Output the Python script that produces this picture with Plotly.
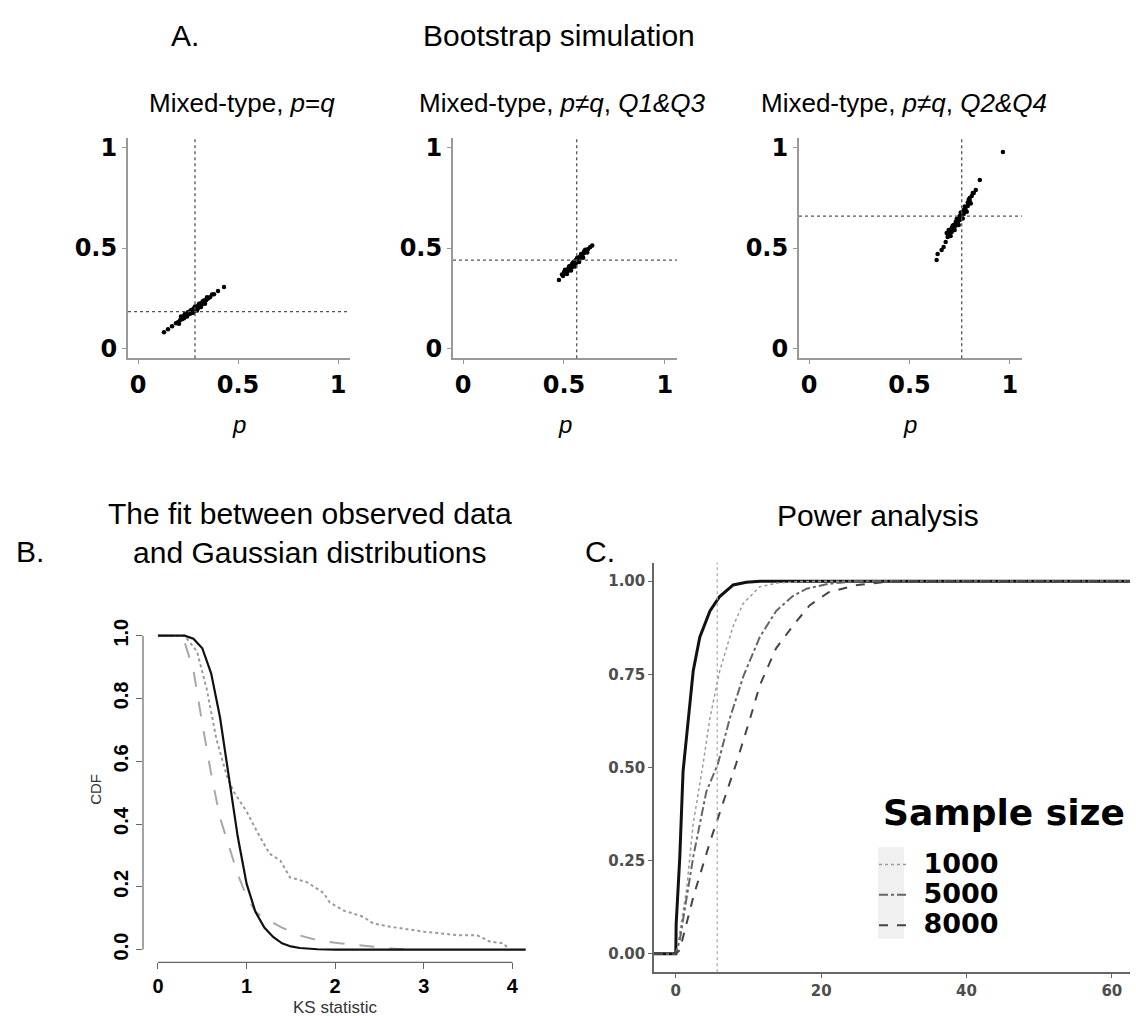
import plotly.graph_objects as go

W, H = 1136, 1023
def px(x): return x / W
def py(y): return 1 - y / H

# ---------------- DATA ----------------
# Panel A: bootstrap samples (p, q) and observed reference values
A1_points = [(0.13, 0.080), (0.15, 0.095), (0.17, 0.110), (0.19, 0.125), (0.20, 0.130), (0.21, 0.140),
             (0.22, 0.145), (0.22, 0.155), (0.23, 0.150), (0.23, 0.162), (0.24, 0.160), (0.24, 0.170),
             (0.25, 0.168), (0.25, 0.175), (0.25, 0.180), (0.26, 0.178), (0.26, 0.184), (0.26, 0.172),
             (0.27, 0.186), (0.27, 0.192), (0.27, 0.180), (0.28, 0.190), (0.28, 0.196), (0.28, 0.200),
             (0.28, 0.185), (0.29, 0.198), (0.29, 0.205), (0.29, 0.192), (0.30, 0.206), (0.30, 0.212),
             (0.30, 0.200), (0.31, 0.214), (0.31, 0.222), (0.32, 0.220), (0.32, 0.228), (0.33, 0.230),
             (0.33, 0.238), (0.34, 0.240), (0.35, 0.248), (0.36, 0.255), (0.38, 0.270), (0.40, 0.285),
             (0.43, 0.305), (0.235, 0.172), (0.245, 0.158), (0.265, 0.190), (0.275, 0.176), (0.285, 0.208),
             (0.295, 0.188), (0.305, 0.222), (0.315, 0.206), (0.325, 0.236), (0.335, 0.222), (0.215, 0.158),
             (0.205, 0.122), (0.345, 0.254), (0.37, 0.268)]
A2_points = [(0.475, 0.340), (0.49, 0.368), (0.50, 0.372), (0.50, 0.380), (0.51, 0.378), (0.51, 0.388),
             (0.52, 0.386), (0.52, 0.395), (0.53, 0.393), (0.53, 0.402), (0.53, 0.410), (0.54, 0.404),
             (0.54, 0.412), (0.54, 0.420), (0.55, 0.415), (0.55, 0.424), (0.55, 0.432), (0.56, 0.426),
             (0.56, 0.435), (0.56, 0.442), (0.57, 0.436), (0.57, 0.445), (0.57, 0.452), (0.58, 0.450),
             (0.58, 0.458), (0.59, 0.462), (0.59, 0.470), (0.60, 0.475), (0.60, 0.484), (0.61, 0.488),
             (0.62, 0.495), (0.63, 0.505), (0.64, 0.513), (0.505, 0.392), (0.515, 0.370), (0.525, 0.408),
             (0.535, 0.388), (0.545, 0.428), (0.555, 0.408), (0.565, 0.450), (0.575, 0.430), (0.585, 0.470),
             (0.595, 0.452), (0.605, 0.492), (0.615, 0.478), (0.495, 0.360)]
A3_points = [(0.635, 0.440), (0.64, 0.470), (0.66, 0.490), (0.67, 0.505), (0.68, 0.530), (0.69, 0.555),
             (0.69, 0.570), (0.70, 0.565), (0.70, 0.585), (0.71, 0.580), (0.71, 0.600), (0.72, 0.598),
             (0.72, 0.615), (0.73, 0.612), (0.73, 0.630), (0.74, 0.628), (0.74, 0.645), (0.75, 0.640),
             (0.75, 0.660), (0.76, 0.655), (0.76, 0.672), (0.77, 0.670), (0.77, 0.690), (0.78, 0.688),
             (0.78, 0.705), (0.79, 0.710), (0.79, 0.728), (0.80, 0.735), (0.80, 0.750), (0.81, 0.760),
             (0.82, 0.775), (0.83, 0.790), (0.85, 0.840), (0.965, 0.980), (0.695, 0.590), (0.705, 0.560),
             (0.715, 0.612), (0.725, 0.590), (0.735, 0.645), (0.745, 0.615), (0.755, 0.678), (0.765, 0.648),
             (0.775, 0.708), (0.785, 0.682), (0.795, 0.742), (0.805, 0.722), (0.815, 0.775), (0.685, 0.575)]
A_p_obs = [0.285, 0.563, 0.760]
A_q_obs = [0.183, 0.440, 0.660]
A_titles = ["Mixed-type, <i>p</i>=<i>q</i>",
            "Mixed-type, <i>p</i>≠<i>q</i>, <i>Q1&amp;Q3</i>",
            "Mixed-type, <i>p</i>≠<i>q</i>, <i>Q2&amp;Q4</i>"]
A_ticks = [0, 0.5, 1]
A_ticktext = ["0", "0.5", "1"]

# Panel B: CDF of KS statistic
B_solid_x = [0, 0.3, 0.4, 0.5, 0.6, 0.7, 0.8, 0.9, 1.0, 1.1, 1.2, 1.3, 1.4, 1.5, 1.6, 1.8, 2.0, 4.15]
B_solid_y = [1, 1, 0.99, 0.96, 0.88, 0.74, 0.55, 0.36, 0.21, 0.12, 0.07, 0.04, 0.02, 0.01, 0.005, 0.001, 0, 0]
B_dash_x = [0, 0.2, 0.3, 0.4, 0.5, 0.6, 0.7, 0.8, 0.9, 1.0, 1.1, 1.2, 1.4, 1.6, 1.8, 2.0, 2.2, 2.4, 2.6, 2.85]
B_dash_y = [1, 1, 0.98, 0.89, 0.72, 0.56, 0.42, 0.33, 0.24, 0.17, 0.12, 0.10, 0.07, 0.045, 0.03, 0.022, 0.016,
            0.008, 0.004, 0.0]
B_dot_x = [0, 0.3, 0.44, 0.55, 0.66, 0.78, 0.85, 1.0, 1.11, 1.26, 1.38, 1.49, 1.68, 1.87, 1.94, 2.09, 2.32,
           2.43, 2.62, 3.0, 3.18, 3.37, 3.6, 3.75, 3.9, 3.95]
B_dot_y = [1, 1, 0.95, 0.83, 0.67, 0.55, 0.505, 0.44, 0.38, 0.305, 0.284, 0.23, 0.215, 0.18, 0.15, 0.125,
           0.104, 0.083, 0.073, 0.057, 0.052, 0.046, 0.046, 0.025, 0.02, 0.004]
B_xticks = [0, 1, 2, 3, 4]
B_yticks = [0, 0.2, 0.4, 0.6, 0.8, 1.0]

# Panel C: power analysis
C_solid_x = [-3, 0, 0.05, 0.55, 1.0, 1.7, 2.4, 3.3, 4.7, 6.0, 7.9, 9.7, 11.6, 62.5]
C_solid_y = [0, 0, 0.08, 0.26, 0.49, 0.63, 0.76, 0.85, 0.92, 0.958, 0.99, 0.997, 1.0, 1.0]
C_1000_x = [-3, 0, 0.32, 1.47, 2.4, 3.76, 4.67, 6.05, 7.9, 9.26, 11.55, 14, 17, 20, 62.5]
C_1000_y = [0, 0, 0.03, 0.17, 0.35, 0.51, 0.63, 0.76, 0.88, 0.94, 0.985, 0.995, 0.999, 1, 1]
C_5000_x = [-3, 0, 0.55, 2.4, 4.2, 5.8, 7.4, 9.3, 11.55, 13.8, 16.1, 18, 21, 25, 62.5]
C_5000_y = [0, 0, 0.037, 0.26, 0.435, 0.51, 0.63, 0.745, 0.85, 0.92, 0.96, 0.98, 0.993, 1, 1]
C_8000_x = [-3, 0, 0.55, 2.4, 4.7, 6.97, 8.3, 10.2, 11.55, 13.8, 16.1, 18.4, 21, 25, 30, 62.5]
C_8000_y = [0, 0, 0.01, 0.152, 0.30, 0.435, 0.51, 0.63, 0.72, 0.82, 0.88, 0.935, 0.97, 0.99, 1, 1]
C_vline = 5.7
C_names = ["1000", "5000", "8000"]
C_xticks = [0, 20, 40, 60]
C_yticks = [0, 0.25, 0.5, 0.75, 1.0]

# ---------------- FIGURE ----------------
fig = go.Figure()

A_dom_x = [(128, 350), (453, 677), (799, 1022)]
A_dom_y = (135, 357)
A_pts = [A1_points, A2_points, A3_points]

ann = []
shapes = []
layout_axes = {}


def label(text, x, y, size, family="Liberation Sans", color="black", **kw):
    ann.append(dict(text=text, x=px(x), y=py(y), xref="paper", yref="paper", showarrow=False,
                    xanchor="center", yanchor="middle",
                    font=dict(family=family, size=size, color=color), **kw))


for i in range(3):
    n = "" if i == 0 else str(i + 1)
    xs = [p for p, q in A_pts[i]]
    ys = [q for p, q in A_pts[i]]
    fig.add_trace(go.Scatter(x=xs, y=ys, mode="markers", xaxis="x" + n, yaxis="y" + n,
                             marker=dict(size=4.5, color="black"), showlegend=False))
    tickf = dict(family="DejaVu Sans", size=24, color="black", weight="bold")
    layout_axes["xaxis" + n] = dict(domain=[px(A_dom_x[i][0]), px(A_dom_x[i][1])], anchor="y" + n,
                                    range=[-0.05, 1.06], tickvals=A_ticks, ticktext=A_ticktext,
                                    showline=True, linecolor="#999999", linewidth=2, ticks="outside",
                                    ticklen=4, tickcolor="#999999", showgrid=False, zeroline=False,
                                    tickfont=tickf)
    layout_axes["yaxis" + n] = dict(domain=[py(A_dom_y[1]), py(A_dom_y[0])], anchor="x" + n,
                                    range=[-0.05, 1.05], tickvals=A_ticks, ticktext=A_ticktext,
                                    showline=True, linecolor="#999999", linewidth=2, ticks="outside",
                                    ticklen=4, tickcolor="#999999", showgrid=False, zeroline=False,
                                    tickfont=tickf)
    shapes.append(dict(type="line", xref="x" + n, yref="y" + n + " domain", x0=A_p_obs[i], x1=A_p_obs[i],
                       y0=0, y1=1, line=dict(color="#555555", width=1.3, dash="dot")))
    shapes.append(dict(type="line", xref="x" + n + " domain", yref="y" + n, x0=0, x1=1,
                       y0=A_q_obs[i], y1=A_q_obs[i], line=dict(color="#555555", width=1.3, dash="dot")))
    cx = (A_dom_x[i][0] + A_dom_x[i][1]) / 2
    label("<i>p</i>", cx, 424, 24)

sub_x = [242, 562, 904]
for i in range(3):
    label(A_titles[i], sub_x[i], 100, 26)

label("A.", 185, 32, 30)
label("Bootstrap simulation", 559, 32, 30)

# Panel B
fig.add_trace(go.Scatter(x=B_dot_x, y=B_dot_y, mode="lines", xaxis="x4", yaxis="y4", showlegend=False,
                         line=dict(color="#9a9a9a", width=2, dash="dot")))
fig.add_trace(go.Scatter(x=B_dash_x, y=B_dash_y, mode="lines", xaxis="x4", yaxis="y4", showlegend=False,
                         line=dict(color="#a8a8a8", width=2, dash="longdash")))
fig.add_trace(go.Scatter(x=B_solid_x, y=B_solid_y, mode="lines", xaxis="x4", yaxis="y4", showlegend=False,
                         line=dict(color="#111111", width=2.2)))
btick = dict(family="Liberation Sans", size=20, color="black", weight="bold")
layout_axes["xaxis4"] = dict(domain=[px(143), px(545)], anchor="y4", range=[-0.169, 4.368],
                             tickvals=B_xticks, showline=False, ticks="outside", ticklen=6,
                             tickcolor="#666666", showgrid=False, zeroline=False, tickfont=btick)
layout_axes["yaxis4"] = dict(domain=[py(966), py(624)], anchor="x4", range=[-0.041, 1.04],
                             tickvals=B_yticks, ticktext=["0.0", "0.2", "0.4", "0.6", "0.8", "1.0"],
                             tickangle=-90, showline=False, ticks="outside", ticklen=6,
                             tickcolor="#666666", showgrid=False, zeroline=False, tickfont=btick)
shapes.append(dict(type="line", xref="x4", yref="y4 domain", x0=B_xticks[0], x1=B_xticks[-1], y0=0, y1=0,
                   line=dict(color="#666666", width=1.2)))
shapes.append(dict(type="line", xref="x4 domain", yref="y4", x0=0, x1=0, y0=B_yticks[0], y1=B_yticks[-1],
                   line=dict(color="#666666", width=1.2)))
label("B.", 30, 552, 30)
label("The fit between observed data<br>and Gaussian distributions", 310, 533, 30)
label("CDF", 96, 792, 15, color="#333333", textangle=-90)
label("KS statistic", 335, 1011, 17, color="#333333")

# Panel C
fig.add_trace(go.Scatter(x=C_solid_x, y=C_solid_y, mode="lines", xaxis="x5", yaxis="y5", showlegend=False,
                         line=dict(color="#111111", width=3)))
C_series = [(C_1000_x, C_1000_y, "#9a9a9a", 1.5, "dot"),
            (C_5000_x, C_5000_y, "#666666", 2, "dashdot"),
            (C_8000_x, C_8000_y, "#444444", 2, "dash")]
for (cxs, cys, col, wid, dsh), nm in zip(C_series, C_names):
    fig.add_trace(go.Scatter(x=cxs, y=cys, mode="lines", xaxis="x5", yaxis="y5",
                             name='<span style="font-size:27px">\u00a0' + nm + '</span>',
                             line=dict(color=col, width=wid, dash=dsh)))
ctick = dict(family="DejaVu Sans", size=15, color="#4d4d4d", weight="bold")
layout_axes["xaxis5"] = dict(domain=[px(654), px(1130)], anchor="y5", range=[-3, 62.5], tickvals=C_xticks,
                             showline=True, linecolor="#666666", linewidth=1.5, ticks="outside", ticklen=4,
                             tickcolor="#666666", showgrid=False, zeroline=False, tickfont=ctick)
layout_axes["yaxis5"] = dict(domain=[py(976), py(563)], anchor="x5", range=[-0.05, 1.05], tickvals=C_yticks,
                             ticktext=["0.00", "0.25", "0.50", "0.75", "1.00"],
                             showline=True, linecolor="#666666", linewidth=1.5, ticks="outside", ticklen=4,
                             tickcolor="#666666", showgrid=False, zeroline=False, tickfont=ctick)
shapes.append(dict(type="line", xref="x5", yref="y5 domain", x0=C_vline, x1=C_vline, y0=0, y1=1,
                   line=dict(color="#aaaaaa", width=1.2, dash="dot")))
shapes.append(dict(type="rect", xref="paper", yref="paper", x0=px(878), x1=px(904), y0=py(942), y1=py(850),
                   fillcolor="#f0f0f0", line=dict(width=0), layer="below"))
label("C.", 600, 552, 30)
label("Power analysis", 878, 516, 30)
label("<b>Sample size</b>", 1004, 815, 36, family="DejaVu Sans")

fig.update_layout(
    width=W, height=H, autosize=False,
    margin=dict(l=0, r=0, t=0, b=0),
    paper_bgcolor="white", plot_bgcolor="white",
    annotations=ann, shapes=shapes,
    legend=dict(x=px(874), y=py(847), xanchor="left", yanchor="top", bgcolor="rgba(0,0,0,0)",
                font=dict(family="DejaVu Sans", size=21, color="black", weight="bold"),
                itemwidth=30, tracegroupgap=0),
    **layout_axes,
)

fig.write_html("out.html", config={"displayModeBar": False},
               post_script="document.body.style.margin='0px';")
